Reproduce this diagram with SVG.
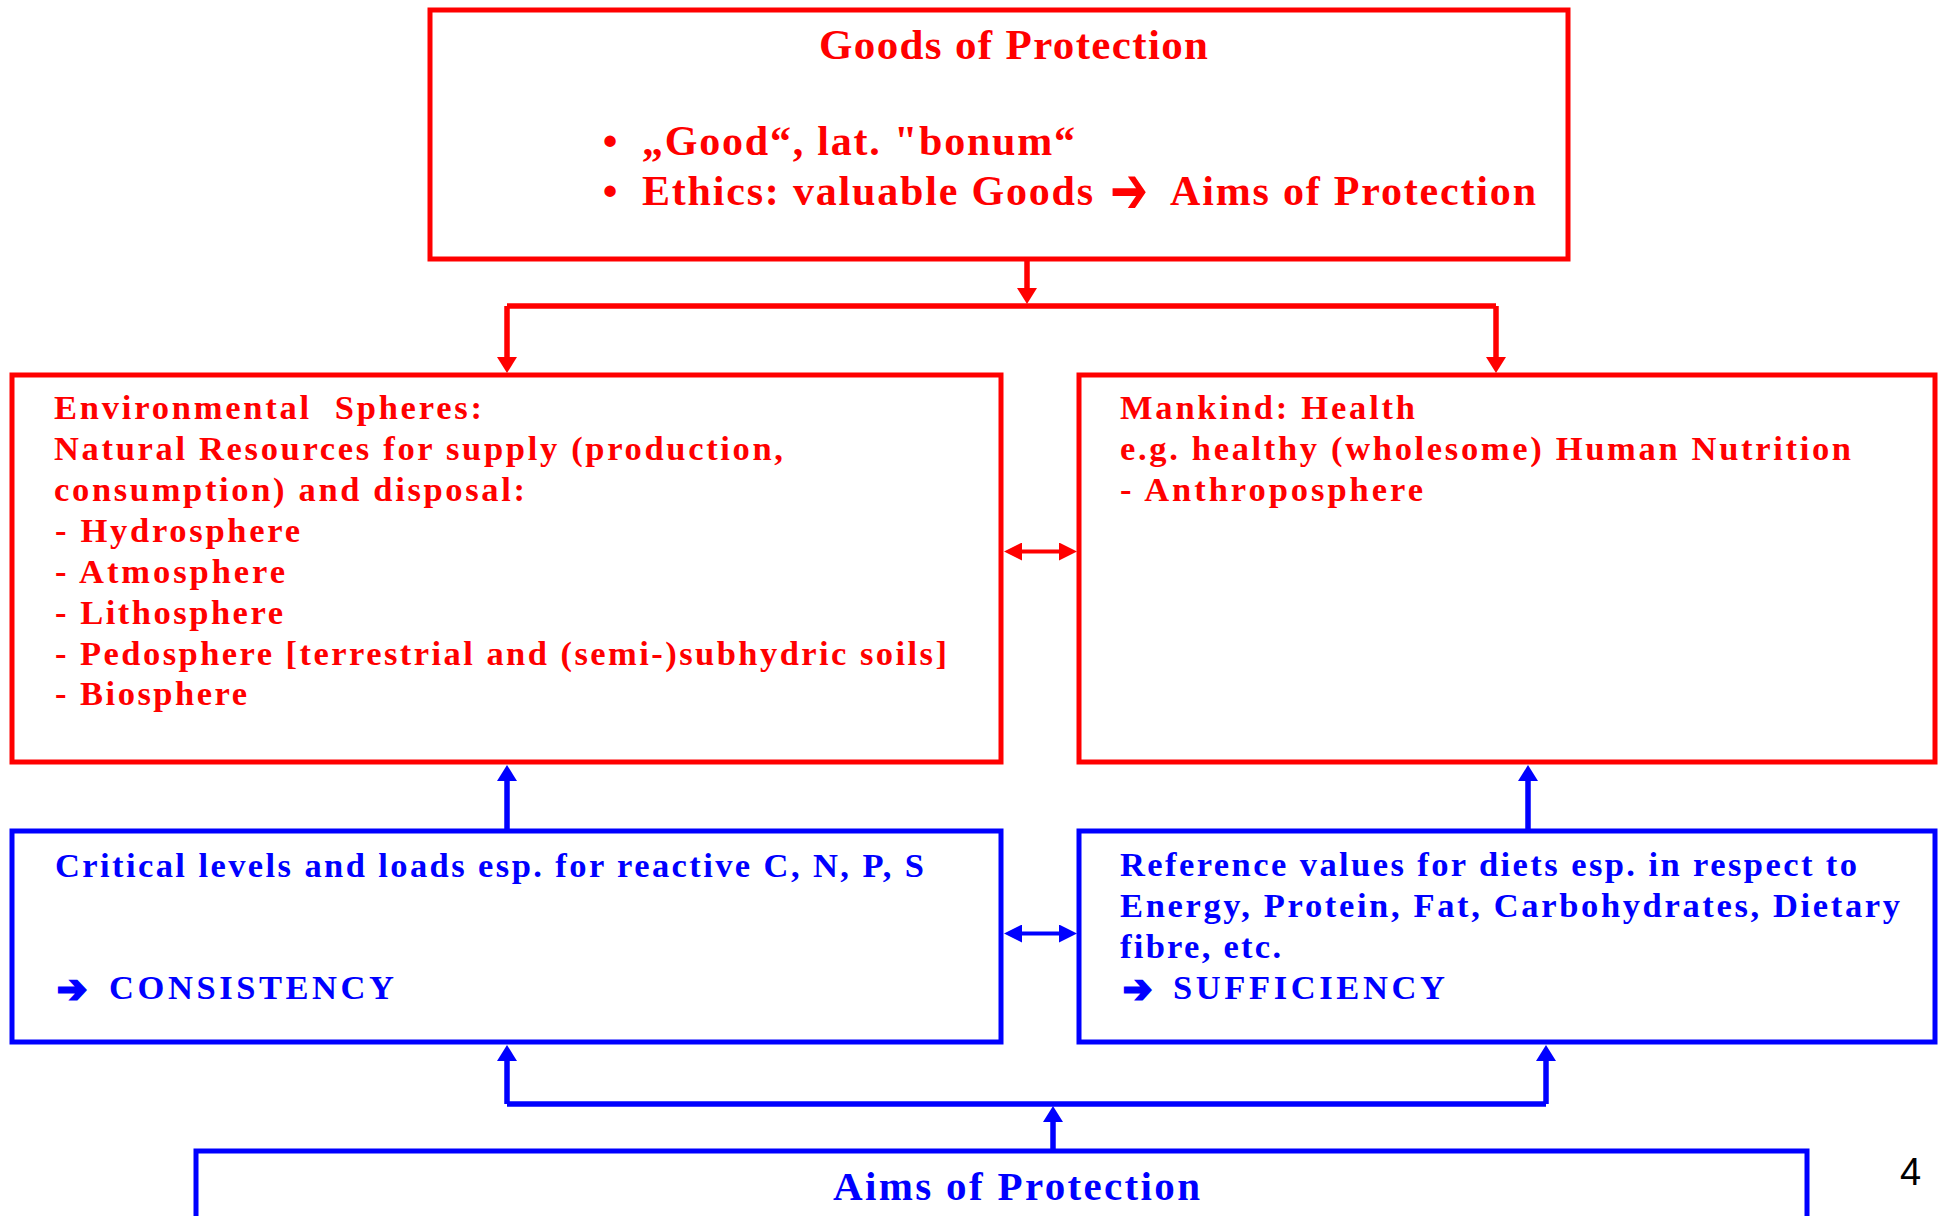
<svg xmlns="http://www.w3.org/2000/svg" width="1939" height="1216" viewBox="0 0 1939 1216">
  <defs>
    <style>
      .bx-r { fill: none; stroke: #ff0000; stroke-width: 5; }
      .bx-b { fill: none; stroke: #0000ff; stroke-width: 5; }
      .ln-r { fill: none; stroke: #ff0000; stroke-width: 5.5; }
      .ln-b { fill: none; stroke: #0000ff; stroke-width: 5.5; }
      .dbl-r { fill: none; stroke: #ff0000; stroke-width: 4; }
      .dbl-b { fill: none; stroke: #0000ff; stroke-width: 4; }
      .t { font-family: "Liberation Serif", "Times New Roman", serif; font-weight: bold; }
      .big { font-size: 42px; }
      .mid { font-size: 34.5px; }
      .red { fill: #ff0000; }
      .blue { fill: #0000ff; }
      .arr { font-family: "DejaVu Sans", sans-serif; font-weight: bold; }
      .arr-b { fill: #0000ff; stroke: #0000ff; stroke-width: 2.5; stroke-linejoin: miter; }
      .pg { font-family: "Liberation Sans", Arial, sans-serif; font-size: 38px; fill: #000000; }
    </style>
    <marker id="hr" viewBox="0 0 16 20" refX="6" refY="10" markerWidth="16" markerHeight="20" markerUnits="userSpaceOnUse" orient="auto-start-reverse">
      <path d="M0,0 L16,10 L0,20 Z" fill="#ff0000"/>
    </marker>
    <marker id="hb" viewBox="0 0 16 20" refX="6" refY="10" markerWidth="16" markerHeight="20" markerUnits="userSpaceOnUse" orient="auto-start-reverse">
      <path d="M0,0 L16,10 L0,20 Z" fill="#0000ff"/>
    </marker>
    <marker id="dr" viewBox="0 0 18 18" refX="8" refY="9" markerWidth="18" markerHeight="18" markerUnits="userSpaceOnUse" orient="auto-start-reverse">
      <path d="M0,0 L18,9 L0,18 Z" fill="#ff0000"/>
    </marker>
    <marker id="db" viewBox="0 0 18 18" refX="8" refY="9" markerWidth="18" markerHeight="18" markerUnits="userSpaceOnUse" orient="auto-start-reverse">
      <path d="M0,0 L18,9 L0,18 Z" fill="#0000ff"/>
    </marker>
  </defs>

  <rect width="1939" height="1216" fill="#ffffff"/>

  <!-- connectors -->
  <g id="connectors">
    <!-- goods of protection fan-out -->
    <path class="ln-r" d="M1027,261 V294" marker-end="url(#hr)"/>
    <path class="ln-r" d="M507,306 H1496"/>
    <path class="ln-r" d="M507,306 V363" marker-end="url(#hr)"/>
    <path class="ln-r" d="M1496,306 V363" marker-end="url(#hr)"/>
    <!-- spheres <-> mankind -->
    <path class="dbl-r" d="M1014,551.5 H1067" marker-start="url(#dr)" marker-end="url(#dr)"/>
    <!-- criteria up to goods -->
    <path class="ln-b" d="M507,831 V775" marker-end="url(#hb)"/>
    <path class="ln-b" d="M1528,831 V775" marker-end="url(#hb)"/>
    <!-- consistency <-> sufficiency -->
    <path class="dbl-b" d="M1014,933.5 H1067" marker-start="url(#db)" marker-end="url(#db)"/>
    <!-- aims of protection fan-out -->
    <path class="ln-b" d="M1053,1151 V1116" marker-end="url(#hb)"/>
    <path class="ln-b" d="M507,1104 H1546"/>
    <path class="ln-b" d="M507,1104 V1055" marker-end="url(#hb)"/>
    <path class="ln-b" d="M1546,1104 V1055" marker-end="url(#hb)"/>
  </g>

  <!-- Goods of Protection -->
  <g id="goods">
    <rect class="bx-r" x="430" y="10" width="1138" height="249"/>
    <text class="t red" x="819" y="59" font-size="43" textLength="389" lengthAdjust="spacing">Goods of Protection</text>
    <text class="t big red" x="610" y="155" text-anchor="middle">•</text>
    <text class="t big red" x="642" y="155" textLength="433" lengthAdjust="spacing">„Good“, lat. &quot;bonum“</text>
    <text class="t big red" x="610" y="205" text-anchor="middle">•</text>
    <text class="t big red" x="642" y="205" textLength="451" lengthAdjust="spacing">Ethics: valuable Goods</text>
    <text class="arr red" x="1110" y="213" font-size="66" textLength="38" lengthAdjust="spacingAndGlyphs">➔</text>
    <text class="t big red" x="1170" y="205" textLength="366" lengthAdjust="spacing">Aims of Protection</text>
  </g>

  <!-- Environmental spheres -->
  <g id="spheres">
    <rect class="bx-r" x="12" y="375" width="989" height="387"/>
    <text class="t mid red" x="54" y="419" textLength="428" lengthAdjust="spacing" xml:space="preserve">Environmental  Spheres:</text>
    <text class="t mid red" x="54" y="460" textLength="729" lengthAdjust="spacing">Natural Resources for supply (production,</text>
    <text class="t mid red" x="54" y="501" textLength="471" lengthAdjust="spacing">consumption) and disposal:</text>
    <text class="t mid red" x="55" y="542" textLength="245" lengthAdjust="spacing">- Hydrosphere</text>
    <text class="t mid red" x="55" y="583" textLength="230" lengthAdjust="spacing">- Atmosphere</text>
    <text class="t mid red" x="55" y="624" textLength="228" lengthAdjust="spacing">- Lithosphere</text>
    <text class="t mid red" x="55" y="665" textLength="892" lengthAdjust="spacing">- Pedosphere [terrestrial and (semi-)subhydric soils]</text>
    <text class="t mid red" x="55" y="705" textLength="192" lengthAdjust="spacing">- Biosphere</text>
  </g>

  <!-- Mankind -->
  <g id="mankind">
    <rect class="bx-r" x="1079" y="375" width="856" height="387"/>
    <text class="t mid red" x="1120" y="419" textLength="295" lengthAdjust="spacing">Mankind: Health</text>
    <text class="t mid red" x="1120" y="460" textLength="731" lengthAdjust="spacing">e.g. healthy (wholesome) Human Nutrition</text>
    <text class="t mid red" x="1120" y="501" textLength="303" lengthAdjust="spacing">- Anthroposphere</text>
  </g>

  <!-- Critical levels -->
  <g id="consistency">
    <rect class="bx-b" x="12" y="831" width="989" height="211"/>
    <text class="t mid blue" x="55" y="877" textLength="869" lengthAdjust="spacing">Critical levels and loads esp. for reactive C, N, P, S</text>
    <text class="arr arr-b" x="57" y="1002" font-size="38" textLength="30" lengthAdjust="spacingAndGlyphs">➔</text>
    <text class="t mid blue" x="109" y="999" textLength="285" lengthAdjust="spacing">CONSISTENCY</text>
  </g>

  <!-- Reference values -->
  <g id="sufficiency">
    <rect class="bx-b" x="1079" y="831" width="856" height="211"/>
    <text class="t mid blue" x="1120" y="876" textLength="737" lengthAdjust="spacing">Reference values for diets esp. in respect to</text>
    <text class="t mid blue" x="1120" y="917" textLength="780" lengthAdjust="spacing">Energy, Protein, Fat, Carbohydrates, Dietary</text>
    <text class="t mid blue" x="1120" y="958" textLength="161" lengthAdjust="spacing">fibre, etc.</text>
    <text class="arr arr-b" x="1123" y="1002" font-size="38" textLength="29" lengthAdjust="spacingAndGlyphs">➔</text>
    <text class="t mid blue" x="1173" y="999" textLength="272" lengthAdjust="spacing">SUFFICIENCY</text>
  </g>

  <!-- Aims of Protection -->
  <g id="aims">
    <rect class="bx-b" x="196" y="1151" width="1611" height="100"/>
    <text class="t blue" x="833" y="1200" font-size="41" textLength="367" lengthAdjust="spacing">Aims of Protection</text>
  </g>

  <text class="pg" x="1900" y="1185">4</text>
</svg>
